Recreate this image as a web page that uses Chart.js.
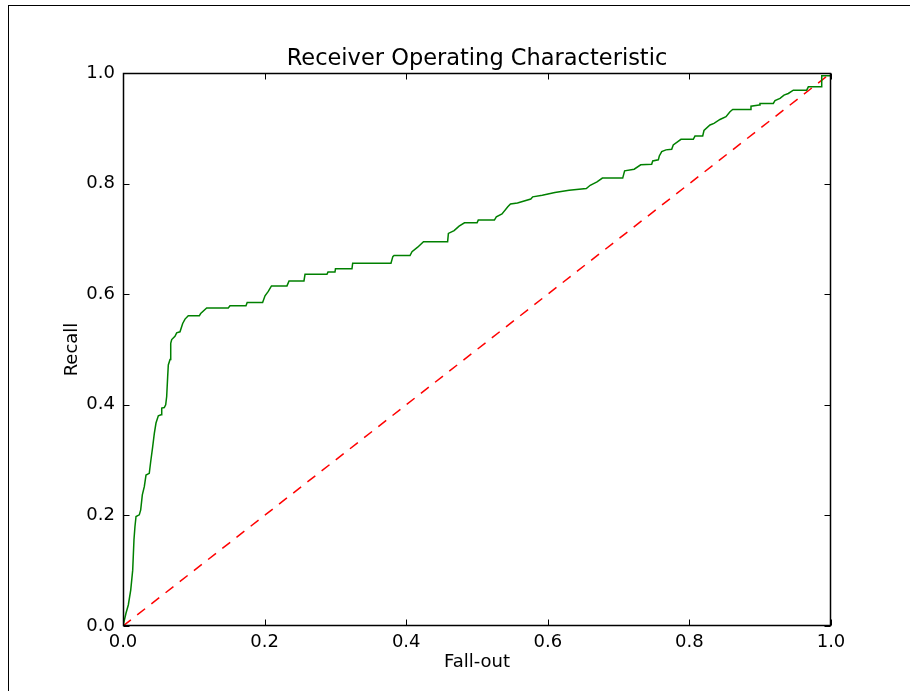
<!DOCTYPE html>
<html>
<head>
<meta charset="utf-8">
<script src="https://cdn.jsdelivr.net/npm/chart.js@4.4.1/dist/chart.umd.min.js"></script>
<style>
  body { margin: 0; background: #fff; }
  #wrap { position: relative; width: 910px; height: 691px; overflow: hidden; }
  #edge { position: absolute; left: 8px; top: 5px; width: 920px; height: 700px;
          border-left: 1px solid #000; border-top: 1px solid #000; }
  canvas { position: absolute; left: 0; top: 0; }
</style>
</head>
<body>
<div id="wrap">
  <div id="edge"></div>
  <canvas id="roc" width="910" height="691"></canvas>
</div>
<script>
// ROC curve (fall-out, recall)
const fallOut = [
  0, 0.0042, 0.0075, 0.0109, 0.0137, 0.0155, 0.0169, 0.0184, 0.0230, 0.0250,
  0.0273, 0.0301, 0.0325, 0.0371, 0.0391, 0.0419, 0.0442, 0.0466, 0.0499, 0.0537,
  0.0547, 0.0583, 0.0603, 0.0617, 0.0631, 0.0640, 0.0664, 0.0674, 0.0688, 0.0734,
  0.0758, 0.0805, 0.0843, 0.0876, 0.0922, 0.1078, 0.1097, 0.1182, 0.1487, 0.1511,
  0.1737, 0.1754, 0.1972, 0.2006, 0.2052, 0.2097, 0.2316, 0.2345, 0.2556, 0.2571,
  0.2881, 0.2895, 0.2994, 0.3001, 0.3234, 0.3244, 0.3785, 0.3811, 0.3828, 0.4054,
  0.4082, 0.4162, 0.4244, 0.4585, 0.4596, 0.4677, 0.4747, 0.4823, 0.5001, 0.5018,
  0.5246, 0.5273, 0.5353, 0.5435, 0.5473, 0.5571, 0.5760, 0.5787, 0.5922, 0.6100,
  0.6301, 0.6544, 0.6599, 0.6695, 0.6771, 0.7058, 0.7085, 0.7220, 0.7312, 0.7467,
  0.7482, 0.7561, 0.7575, 0.7609, 0.7669, 0.7750, 0.7772, 0.7881, 0.8055, 0.8079,
  0.8188, 0.8206, 0.8291, 0.8347, 0.8432, 0.8517, 0.8573, 0.8612, 0.8856, 0.8870,
  0.8987, 0.8997, 0.9185, 0.9209, 0.9280, 0.9336, 0.9397, 0.9468, 0.9657, 0.9680,
  0.9869, 0.9869, 1.0, 1.0
];
const recall = [
  0, 0.023, 0.038, 0.065, 0.101, 0.156, 0.180, 0.198, 0.201, 0.210,
  0.237, 0.252, 0.273, 0.276, 0.297, 0.324, 0.348, 0.367, 0.380, 0.382,
  0.394, 0.395, 0.400, 0.415, 0.451, 0.472, 0.482, 0.511, 0.518, 0.524,
  0.530, 0.532, 0.547, 0.555, 0.561, 0.561, 0.565, 0.575, 0.575, 0.579,
  0.579, 0.585, 0.585, 0.597, 0.605, 0.615, 0.615, 0.624, 0.624, 0.636,
  0.636, 0.640, 0.640, 0.646, 0.646, 0.656, 0.656, 0.668, 0.670, 0.670,
  0.677, 0.685, 0.695, 0.695, 0.710, 0.715, 0.723, 0.729, 0.729, 0.734,
  0.734, 0.740, 0.745, 0.758, 0.763, 0.765, 0.772, 0.776, 0.779, 0.784,
  0.788, 0.791, 0.797, 0.803, 0.810, 0.810, 0.823, 0.826, 0.834, 0.835,
  0.841, 0.843, 0.850, 0.858, 0.861, 0.862, 0.870, 0.880, 0.880, 0.886,
  0.886, 0.896, 0.906, 0.909, 0.916, 0.921, 0.930, 0.934, 0.934, 0.940,
  0.942, 0.945, 0.945, 0.950, 0.954, 0.960, 0.963, 0.969, 0.969, 0.975,
  0.975, 0.995, 0.995, 1.0
];
// chance line
const chanceX = [0, 1];
const chanceY = [0, 1];

const xTickLabels = ['0.0', '0.2', '0.4', '0.6', '0.8', '1.0'];
const yTickLabels = ['0.0', '0.2', '0.4', '0.6', '0.8', '1.0'];

const FONT = "'DejaVu Sans', sans-serif";

// spines + inward ticks on all four sides, like the old matplotlib look
const frame = {
  id: 'frame',
  afterDatasetsDraw(chart) {
    const { ctx, chartArea: a, scales: { x, y } } = chart;
    const L = Math.round(a.left) + 0.5, R = Math.round(a.right) - 0.5;
    const T = Math.round(a.top) + 0.5, B = Math.round(a.bottom) - 0.5;
    const len = 6;
    ctx.save();
    ctx.strokeStyle = '#000';
    ctx.lineWidth = 1;
    ctx.beginPath();
    x.ticks.forEach(t => {
      const px = Math.round(x.getPixelForValue(t.value)) + 0.5;
      ctx.moveTo(px, B); ctx.lineTo(px, B - len);
      ctx.moveTo(px, T); ctx.lineTo(px, T + len);
    });
    y.ticks.forEach(t => {
      const py = Math.round(y.getPixelForValue(t.value)) + 0.5;
      ctx.moveTo(L, py); ctx.lineTo(L + len, py);
      ctx.moveTo(R, py); ctx.lineTo(R - len, py);
    });
    ctx.stroke();
    ctx.lineWidth = 1.5;
    ctx.strokeRect(L, T, R - L, B - T);
    ctx.restore();
  }
};

const ctx = document.getElementById('roc').getContext('2d');
new Chart(ctx, {
  type: 'line',
  data: {
    datasets: [
      {
        data: fallOut.map((v, i) => ({ x: v, y: recall[i] })),
        borderColor: '#008000',
        borderWidth: 1.5,
        pointRadius: 0,
        tension: 0,
        fill: false
      },
      {
        data: chanceX.map((v, i) => ({ x: v, y: chanceY[i] })),
        borderColor: '#ff0000',
        borderWidth: 1.5,
        borderDash: [10, 8],
        pointRadius: 0,
        tension: 0,
        fill: false
      }
    ]
  },
  options: {
    responsive: false,
    animation: false,
    layout: { padding: { left: 0, right: 79, top: 0, bottom: 0 } },
    plugins: {
      legend: { display: false },
      tooltip: { enabled: false },
      title: {
        display: true,
        text: 'Receiver Operating Characteristic',
        color: '#000',
        fullSize: false,
        font: { family: FONT, size: 22.5, weight: 'normal' },
        padding: { top: 46, bottom: 0 }
      }
    },
    scales: {
      x: {
        type: 'linear',
        min: 0, max: 1,
        afterFit: s => { s.height = 65; },
        grid: { display: false, drawTicks: false },
        border: { display: false },
        ticks: {
          stepSize: 0.2,
          padding: 6,
          maxRotation: 0,
          color: '#000',
          font: { family: FONT, size: 18 },
          callback: (v, i) => xTickLabels[i]
        },
        title: {
          display: true,
          text: 'Fall-out',
          color: '#000',
          font: { family: FONT, size: 18 },
          padding: { top: 0, bottom: 17.5 }
        }
      },
      y: {
        min: 0, max: 1,
        afterFit: s => { s.width = 123; },
        grid: { display: false, drawTicks: false },
        border: { display: false },
        ticks: {
          stepSize: 0.2,
          padding: 8,
          color: '#000',
          font: { family: FONT, size: 18 },
          callback: (v, i) => yTickLabels[i]
        },
        title: {
          display: true,
          text: 'Recall',
          color: '#000',
          font: { family: FONT, size: 18 },
          padding: { top: 62, bottom: 0 }
        }
      }
    }
  },
  plugins: [frame]
});
</script>
</body>
</html>
